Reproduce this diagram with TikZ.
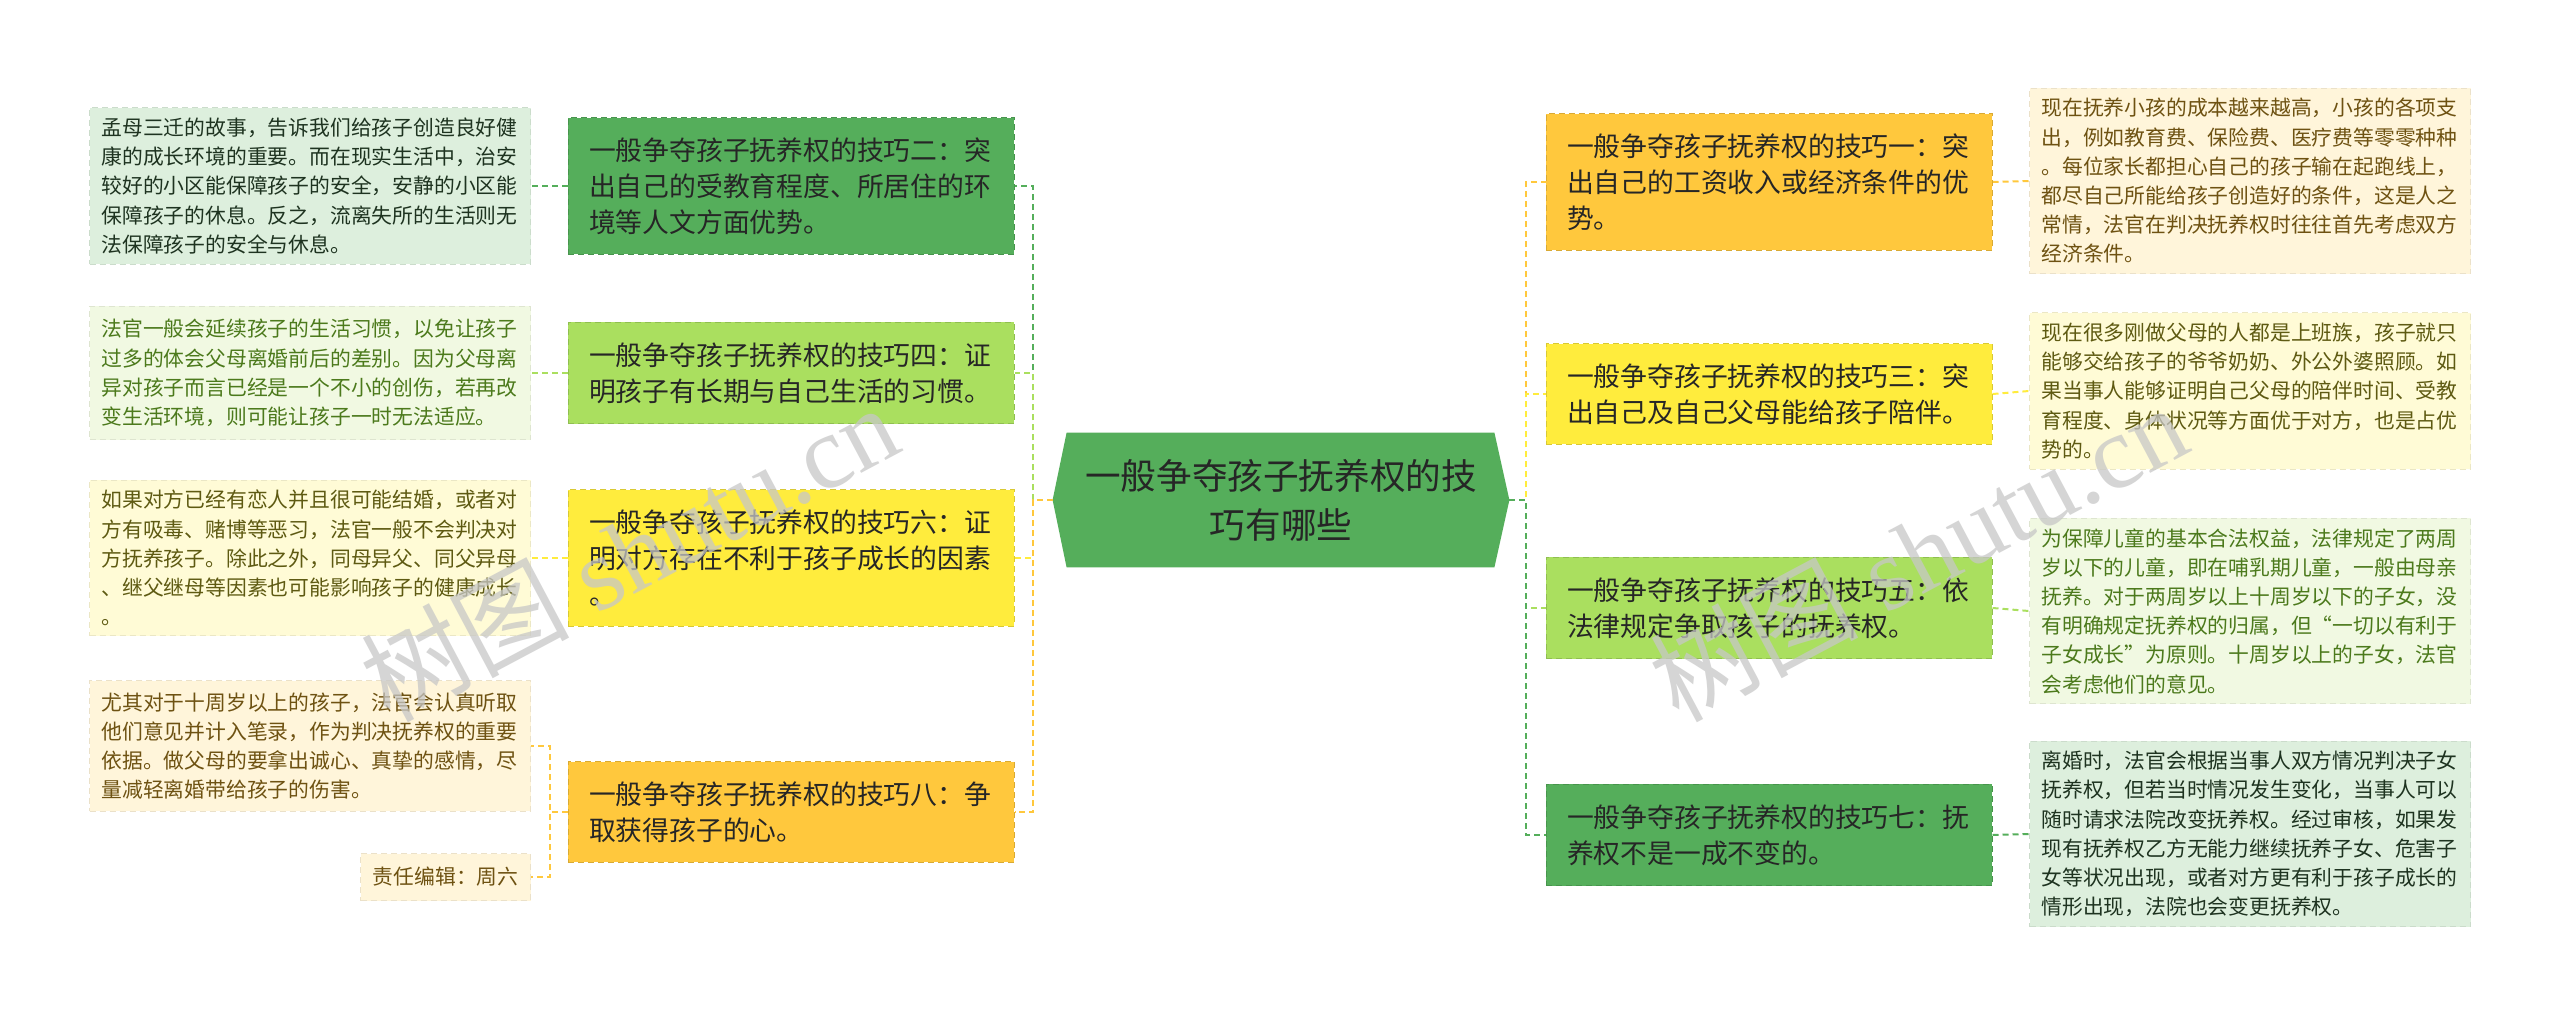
\documentclass[tikz,border=0pt]{standalone}
\usepackage{fontspec}
\setmainfont{Liberation Serif}
\newfontfamily\cjk{Noto Sans CJK SC}
\pgfdeclarelayer{bg}
\pgfsetlayers{bg,main}
\definecolor{cDk}{HTML}{55AE5B}
\definecolor{cLt}{HTML}{AADF5F}
\definecolor{cYe}{HTML}{FFEC3D}
\definecolor{cOr}{HTML}{FFC83D}
\definecolor{pDk}{HTML}{DDEFDD}
\definecolor{pLt}{HTML}{F1F9E2}
\definecolor{pYe}{HTML}{FFFBD6}
\definecolor{pOr}{HTML}{FFF5DA}
\definecolor{tDk}{HTML}{1E3320}
\definecolor{tLt}{HTML}{4C7A1C}
\definecolor{tYe}{HTML}{5E5A12}
\definecolor{tOr}{HTML}{6E5212}
\definecolor{tMain}{HTML}{262626}
\tikzset{
  lvone/.style={fill=#1, draw=#1!85!black, line width=0.5pt, dash pattern=on 3pt off 2pt,
    text=tMain, text width=202pt, inner xsep=10.5pt, inner ysep=10pt, align=left,
    font=\fontsize{13.4}{18}\selectfont\cjk},
  leaf/.style 2 args={fill=#1, draw=#1!92!black, line width=0.5pt, dash pattern=on 3pt off 2pt,
    text=#2, text width=208.5pt, inner xsep=6pt, inner ysep=5pt, align=left,
    font=\fontsize{10.4}{14.6}\selectfont\cjk},
  conn/.style={draw=#1, line width=1pt, dash pattern=on 3pt off 2pt},
  wmark/.style={rotate=28, text=black!22, opacity=0.75, font=\fontsize{52}{52}\selectfont}
}
\begin{document}
\begin{tikzpicture}[x=0.5pt,y=-0.5pt]
\useasboundingbox (0,0) rectangle (2560,1017);
\begin{pgfonlayer}{bg}
\fill[white] (0,0) rectangle (2560,1017);
\end{pgfonlayer}

% central node
\node[minimum width=228pt, minimum height=67pt, inner sep=0pt, align=center, text=tMain,
  font=\fontsize{17.8}{24.5}\selectfont\cjk] (c) at (1281,500) {一般争夺孩子抚养权的技\\巧有哪些};
\begin{pgfonlayer}{bg}
\fill[cDk] ([xshift=7pt]c.north west) -- ([xshift=-7.5pt]c.north east) -- (c.east)
  -- ([xshift=-7.5pt]c.south east) -- ([xshift=7pt]c.south west) -- (c.west) -- cycle;
\end{pgfonlayer}

% level one, left
\node[lvone=cDk] (b2) at (791,186) {一般争夺孩子抚养权的技巧二：突\\出自己的受教育程度、所居住的环\\境等人文方面优势。};
\node[lvone=cLt] (b4) at (791,373) {一般争夺孩子抚养权的技巧四：证\\明孩子有长期与自己生活的习惯。};
\node[lvone=cYe] (b6) at (791,558) {一般争夺孩子抚养权的技巧六：证\\明对方存在不利于孩子成长的因素\\。};
\node[lvone=cOr] (b8) at (791,812) {一般争夺孩子抚养权的技巧八：争\\取获得孩子的心。};

% level one, right
\node[lvone=cOr] (r1) at (1769,182) {一般争夺孩子抚养权的技巧一：突\\出自己的工资收入或经济条件的优\\势。};
\node[lvone=cYe] (r3) at (1769,394) {一般争夺孩子抚养权的技巧三：突\\出自己及自己父母能给孩子陪伴。};
\node[lvone=cLt] (r5) at (1769,608) {一般争夺孩子抚养权的技巧五：依\\法律规定争取孩子的抚养权。};
\node[lvone=cDk] (r7) at (1769,835) {一般争夺孩子抚养权的技巧七：抚\\养权不是一成不变的。};

% leaves, left
\node[leaf={pDk}{tDk}, anchor=east] (l2) at (531,186) {孟母三迁的故事，告诉我们给孩子创造良好健\\康的成长环境的重要。而在现实生活中，治安\\较好的小区能保障孩子的安全，安静的小区能\\保障孩子的休息。反之，流离失所的生活则无\\法保障孩子的安全与休息。};
\node[leaf={pLt}{tLt}, anchor=east, inner ysep=6.5pt] (l4) at (531,373) {法官一般会延续孩子的生活习惯，以免让孩子\\过多的体会父母离婚前后的差别。因为父母离\\异对孩子而言已经是一个不小的创伤，若再改\\变生活环境，则可能让孩子一时无法适应。};
\node[leaf={pYe}{tYe}, anchor=east] (l6) at (531,558) {如果对方已经有恋人并且很可能结婚，或者对\\方有吸毒、赌博等恶习，法官一般不会判决对\\方抚养孩子。除此之外，同母异父、同父异母\\、继父继母等因素也可能影响孩子的健康成长\\。};
\node[leaf={pOr}{tOr}, anchor=east, inner ysep=6pt] (l8a) at (531,746) {尤其对于十周岁以上的孩子，法官会认真听取\\他们意见并计入笔录，作为判决抚养权的重要\\依据。做父母的要拿出诚心、真挚的感情，尽\\量减轻离婚带给孩子的伤害。};
\node[leaf={pOr}{tOr}, anchor=east, text width=72.8pt, minimum height=23.5pt] (l8b) at (531,877) {责任编辑：周六};

% leaves, right
\node[leaf={pOr}{tOr}, anchor=west] (q1) at (2029,181) {现在抚养小孩的成本越来越高，小孩的各项支\\出，例如教育费、保险费、医疗费等零零种种\\。每位家长都担心自己的孩子输在起跑线上，\\都尽自己所能给孩子创造好的条件，这是人之\\常情，法官在判决抚养权时往往首先考虑双方\\经济条件。};
\node[leaf={pYe}{tYe}, anchor=west] (q3) at (2029,391) {现在很多刚做父母的人都是上班族，孩子就只\\能够交给孩子的爷爷奶奶、外公外婆照顾。如\\果当事人能够证明自己父母的陪伴时间、受教\\育程度、身体状况等方面优于对方，也是占优\\势的。};
\node[leaf={pLt}{tLt}, anchor=west] (q5) at (2029,611) {为保障儿童的基本合法权益，法律规定了两周\\岁以下的儿童，即在哺乳期儿童，一般由母亲\\抚养。对于两周岁以上十周岁以下的子女，没\\有明确规定抚养权的归属，但“一切以有利于\\子女成长”为原则。十周岁以上的子女，法官\\会考虑他们的意见。};
\node[leaf={pDk}{tDk}, anchor=west] (q7) at (2029,834) {离婚时，法官会根据当事人双方情况判决子女\\抚养权，但若当时情况发生变化，当事人可以\\随时请求法院改变抚养权。经过审核，如果发\\现有抚养权乙方无能力继续抚养子女、危害子\\女等状况出现，或者对方更有利于孩子成长的\\情形出现，法院也会变更抚养权。};

% connectors
\begin{pgfonlayer}{bg}
\draw[conn=cDk] (c.west) -- ++(-20,0) |- (b2.east);
\draw[conn=cLt] (c.west) -- ++(-20,0) |- (b4.east);
\draw[conn=cYe] (c.west) -- ++(-20,0) |- (b6.east);
\draw[conn=cOr] (c.west) -- ++(-20,0) |- (b8.east);
\draw[conn=cOr] (c.east) -- ++(17,0) |- (r1.west);
\draw[conn=cYe] (c.east) -- ++(17,0) |- (r3.west);
\draw[conn=cLt] (c.east) -- ++(17,0) |- (r5.west);
\draw[conn=cDk] (c.east) -- ++(17,0) |- (r7.west);
\draw[conn=cDk] (b2.west) -- (l2.east);
\draw[conn=cLt] (b4.west) -- (l4.east);
\draw[conn=cYe] (b6.west) -- (l6.east);
\draw[conn=cOr] (b8.west) -- ++(-18,0) |- (l8a.east);
\draw[conn=cOr] (b8.west) -- ++(-18,0) |- (l8b.east);
\draw[conn=cOr] (r1.east) -- (q1.west);
\draw[conn=cYe] (r3.east) -- (q3.west);
\draw[conn=cLt] (r5.east) -- (q5.west);
\draw[conn=cDk] (r7.east) -- (q7.west);
\end{pgfonlayer}

% watermarks
\node[wmark] (wm1) at (629,552) {{\cjk 树图} shutu.cn};
\node[wmark] (wm2) at (1918,552) {{\cjk 树图} shutu.cn};
\end{tikzpicture}
\end{document}
